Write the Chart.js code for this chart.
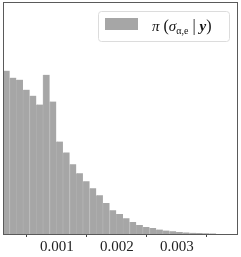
<!DOCTYPE html>
<html>
<head>
<meta charset="utf-8">
<script src="https://cdn.jsdelivr.net/npm/chart.js@4/dist/chart.umd.min.js"></script>
<style>
  html, body { margin: 0; padding: 0; background: #fff; }
  canvas { display: block; }
</style>
</head>
<body>
<canvas id="myChart" width="241" height="257"></canvas>
<script>
// histogram of posterior samples, density per bin
const binStart = 0.0001;
const binWidth = 0.0001111;
const density = [835, 799, 789, 738, 707, 662, 814, 677, 473, 417, 356, 310,
    270, 234, 198, 158, 122, 102, 81, 61, 46, 36, 31, 23, 18, 14, 10, 8, 6, 5, 4, 3];
const tickValues = [0.001, 0.002, 0.003];
const seriesLabel = 'π (σ_α,e | y)';

const binCenters = density.map((d, i) => binStart + (i + 0.5) * binWidth);

const frameAndLegend = {
    id: 'frameAndLegend',
    afterDraw(chart) {
        const c = chart.ctx;
        const a = chart.chartArea;
        c.save();
        // frame
        c.strokeStyle = '#5a5a5a';
        c.lineWidth = 1;
        c.strokeRect(a.left + 0.5, a.top + 0.5, a.right - a.left - 1, a.bottom - a.top);

        // legend box
        c.beginPath();
        c.roundRect(98.5, 11.5, 131, 30, 3);
        c.fillStyle = 'rgba(255,255,255,0.8)';
        c.fill();
        c.strokeStyle = '#dcdcdc';
        c.stroke();
        c.fillStyle = '#a6a6a6';
        c.fillRect(105, 18, 33, 12);

        // legend text pieces
        c.fillStyle = '#111';
        c.textBaseline = 'alphabetic';
        let x = 152;
        const y = 31;
        const parts = [
            ['italic 15px "Liberation Serif"', 'π', 0],
            ['16px "Liberation Serif"', ' (', 0],
            ['italic 15px "Liberation Serif"', 'σ', 0],
            ['10px "Liberation Serif"', 'α,e', 3],
            ['16px "Liberation Serif"', ' | ', 0],
            ['italic bold 15px "Liberation Serif"', 'y', 0],
            ['16px "Liberation Serif"', ')', 0]
        ];
        parts.forEach(p => {
            c.font = p[0];
            c.fillText(p[1], x, y + p[2]);
            x += c.measureText(p[1]).width;
        });
        c.restore();
    }
};

const ctx = document.getElementById('myChart').getContext('2d');
const myChart = new Chart(ctx, {
    type: 'bar',
    data: {
        datasets: [{
            label: seriesLabel,
            data: binCenters.map((x, i) => ({ x: x, y: density[i] })),
            backgroundColor: '#a6a6a6',
            borderColor: '#aeaeae',
            borderWidth: { left: 1, right: 0, top: 0, bottom: 0 },
            barPercentage: 1,
            categoryPercentage: 1
        }]
    },
    options: {
        responsive: false,
        animation: false,
        devicePixelRatio: 1,
        layout: { padding: { left: 3, right: 3, top: 2, bottom: 0 } },
        plugins: {
            legend: { display: false },
            tooltip: { enabled: false }
        },
        scales: {
            x: {
                type: 'linear',
                min: 0.0001,
                max: 0.00402,
                offset: false,
                afterBuildTicks: s => { s.ticks = tickValues.map(v => ({ value: v })); },
                grid: { display: true, drawOnChartArea: false, drawTicks: true, tickLength: 3, color: '#444' },
                border: { display: false },
                ticks: {
                    autoSkip: false,
                    maxRotation: 0,
                    padding: 1,
                    color: '#222',
                    font: { family: 'Liberation Serif', size: 15 },
                    callback: v => v.toFixed(3)
                }
            },
            y: { display: false, min: 0, max: 1186 }
        }
    },
    plugins: [frameAndLegend]
});
</script>
</body>
</html>
